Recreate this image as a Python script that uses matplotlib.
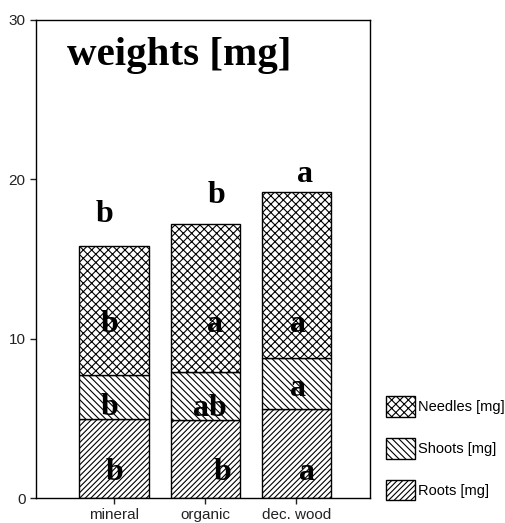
import matplotlib.pyplot as plt
from matplotlib.patches import Patch

# data
sites = ["mineral", "organic", "dec. wood"]
roots = [4.97, 4.9, 5.6]
shoots = [2.75, 3.0, 3.2]
needles = [8.1, 9.3, 10.4]

# significance letters (top = total weight)
letters_total = ["b", "b", "a"]
letters_needles = ["b", "a", "a"]
letters_shoots = ["b", "ab", "a"]
letters_roots = ["b", "b", "a"]

plt.rcParams['hatch.linewidth'] = 0.8

fig = plt.figure(figsize=(5.05, 5.23), dpi=100)
ax = fig.add_axes([0.0713, 0.0478, 0.6614, 0.914])

x = list(range(len(sites)))
w = 0.76
bottom2 = [r + s for r, s in zip(roots, shoots)]

h_roots, h_shoots, h_needles = "//////", "\\\\\\\\\\", "xxxx"

ax.bar(x, roots, w, color="white", edgecolor="black", hatch=h_roots, lw=1)
ax.bar(x, shoots, w, bottom=roots, color="white", edgecolor="black", hatch=h_shoots, lw=1)
ax.bar(x, needles, w, bottom=bottom2, color="white", edgecolor="black", hatch=h_needles, lw=1)

serif = dict(family="Liberation Serif", weight="bold", fontsize=23, ha="center", va="center")
for i in x:
    ax.text([-0.1, 1.13, 2.1][i], [17.8, 19.0, 20.3][i], letters_total[i], **serif)
    ax.text([-0.05, 1.11, 2.02][i], 10.9, letters_needles[i], **serif)
    ax.text([-0.05, 1.05, 2.02][i], [5.65, 5.6, 6.9][i], letters_shoots[i], **serif)
    ax.text([0.01, 1.19, 2.12][i], 1.6, letters_roots[i], **serif)

ax.text(-0.52, 27.8, "weights [mg]", family="Liberation Serif", weight="bold",
        fontsize=29.5, ha="left", va="center")

ax.set_xlim(-0.857, 2.81)
ax.set_ylim(0, 30)
ax.set_yticks([0, 10, 20, 30])
ax.set_xticks(x)
ax.set_xticklabels(sites)
ax.tick_params(labelsize=11, length=4, width=1, colors="#222222")
for lbl in ax.get_xticklabels() + ax.get_yticklabels():
    lbl.set_family("Liberation Sans")
for s in ax.spines.values():
    s.set_linewidth(1)

handles = [Patch(facecolor="white", edgecolor="black", hatch=h_needles),
           Patch(facecolor="white", edgecolor="black", hatch=h_shoots),
           Patch(facecolor="white", edgecolor="black", hatch=h_roots)]
fig.legend(handles, ["Needles [mg]", "Shoots [mg]", "Roots [mg]"],
           loc="lower left", bbox_to_anchor=(0.752, 0.032), frameon=False,
           prop={"family": "Liberation Sans", "size": 10.5},
           handlelength=2.0, handleheight=1.8, labelspacing=1.45, handletextpad=0.2,
           borderaxespad=0)

fig.savefig("out.png", dpi=100)
